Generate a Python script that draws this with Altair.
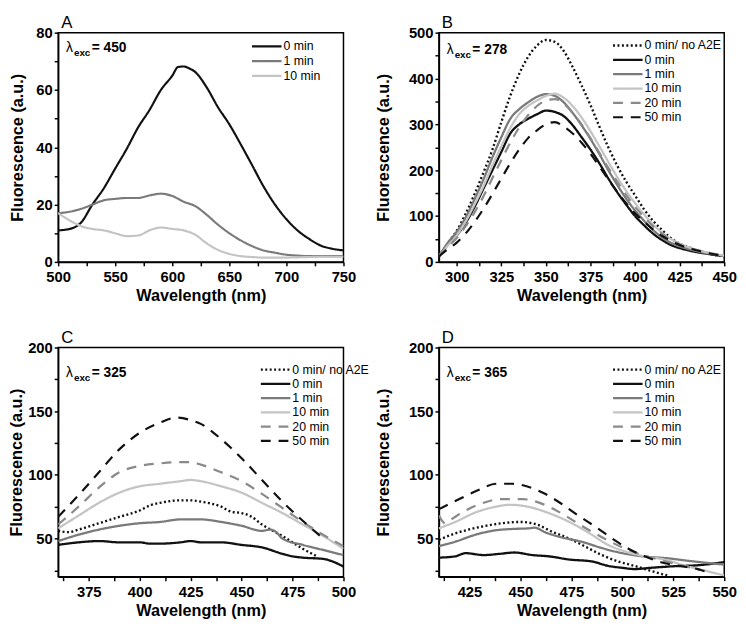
import altair as alt
import pandas as pd

# ---------------- Panel A (lambda_exc = 450) ----------------
A_names = ["0 min", "1 min", "10 min"]
A_wl_0 = [500, 510, 520, 530, 540, 550, 560, 570, 580, 590, 600, 605, 610, 615, 620, 630, 640, 650, 660, 670, 680, 690, 700, 710, 720, 730, 740, 750]
A_0 = [11, 11.5, 13.7, 20, 25.7, 32.6, 39.4, 46.9, 53, 60, 65, 68, 68.2, 67.5, 66.3, 61, 54, 48, 41, 33.7, 26.3, 20, 14.9, 10.9, 8, 5.7, 4.6, 4]
A_wl = [500, 510, 520, 530, 540, 550, 560, 570, 580, 590, 600, 610, 620, 630, 640, 650, 660, 670, 680, 690, 700, 710, 720, 730, 740, 750]
A_1 = [17, 17.5, 18.5, 20, 21.5, 22, 22.3, 22.3, 23.2, 23.8, 23, 21, 19.5, 16.5, 13, 10, 7.5, 5.5, 4, 3.2, 2.5, 2.2, 2, 2, 2, 2]
A_10 = [17, 14.5, 12.5, 11.5, 11, 10, 9, 9.2, 11, 12, 11.5, 11, 9.5, 6.5, 4.2, 2.8, 2, 1.7, 1.5, 1.5, 1.5, 1.6, 1.7, 1.8, 1.8, 1.8]

# ---------------- Panel B (lambda_exc = 278) ----------------
B_names = ["0 min/ no A2E", "0 min", "1 min", "10 min", "20 min", "50 min"]
B_wl = [290, 295, 300, 305, 310, 315, 320, 325, 330, 335, 340, 345, 350, 355, 360, 365, 370, 375, 380, 385, 390, 395, 400, 405, 410, 415, 420, 425, 430, 435, 440, 445, 450]
B_dot = [12, 40, 68, 105, 148, 195, 245, 305, 362, 410, 447, 472, 484, 480, 460, 425, 385, 342, 295, 250, 210, 175, 145, 115, 90, 70, 52, 40, 32, 25, 20, 15, 12]
B_0 = [12, 38, 58, 85, 120, 160, 200, 240, 280, 300, 312, 322, 330, 327, 318, 298, 272, 245, 215, 182, 152, 125, 100, 80, 62, 48, 37, 30, 25, 21, 18, 15, 13]
B_1 = [12, 42, 66, 97, 137, 180, 228, 272, 312, 333, 348, 360, 366, 362, 348, 325, 298, 268, 235, 200, 168, 138, 112, 90, 70, 54, 42, 34, 28, 23, 19, 16, 13]
B_10 = [12, 36, 58, 88, 125, 165, 210, 252, 292, 322, 340, 352, 362, 367, 358, 340, 315, 285, 252, 218, 185, 155, 128, 104, 82, 64, 50, 40, 32, 26, 21, 17, 14]
B_20 = [12, 33, 52, 78, 108, 143, 183, 222, 260, 293, 320, 340, 352, 355, 345, 325, 300, 270, 238, 205, 175, 146, 120, 98, 78, 62, 48, 38, 31, 25, 21, 17, 14]
B_50 = [12, 28, 42, 62, 87, 116, 148, 182, 215, 245, 270, 287, 300, 305, 295, 280, 260, 236, 208, 180, 153, 128, 106, 88, 71, 57, 46, 37, 30, 25, 20, 16, 13]

# ---------------- Panel C (lambda_exc = 325) ----------------
C_wl_dot = [360, 365, 370, 380, 390, 400, 405, 410, 420, 425, 430, 440, 445, 450, 455, 460, 470, 480, 487]
C_dot = [56, 55, 57, 62, 67, 72, 76, 78, 80, 80, 79, 75, 71, 70, 67, 61, 52, 42, 36]
C_wl_0 = [360, 370, 380, 390, 400, 405, 410, 420, 425, 430, 440, 450, 460, 470, 475, 480, 490, 500]
C_0 = [45, 47, 48, 47, 47, 46, 46, 47, 48, 47, 47, 45, 43, 38, 36, 35, 34, 28]
C_wl_1 = [360, 370, 380, 390, 400, 410, 420, 425, 430, 440, 450, 460, 464, 467, 470, 480, 490, 500]
C_1 = [48, 53, 57, 60, 62, 63, 65, 65, 65, 63, 60, 56, 57, 55, 50, 45, 41, 37]
C_wl = [360, 370, 380, 390, 400, 410, 420, 425, 430, 440, 450, 460, 470, 480, 490, 500]
C_10 = [58, 68, 78, 86, 91, 93, 95, 96, 95, 91, 86, 78, 70, 61, 52, 42]
C_20 = [61, 75, 90, 102, 107, 109, 110, 110, 108, 102, 95, 85, 74, 63, 53, 44]
C_wl_50 = [360, 370, 380, 390, 400, 410, 418, 425, 430, 440, 450, 460, 470, 480, 490]
C_50 = [67, 84, 102, 120, 133, 141, 145, 143, 140, 128, 113, 96, 79, 64, 50]

# ---------------- Panel D (lambda_exc = 365) ----------------
D_wl_dot = [410, 418, 430, 441, 450, 458, 466, 474, 482, 490, 498, 506, 514, 522]
D_dot = [49, 54, 59, 62, 63, 61, 55, 50, 43.5, 37, 32, 28.5, 24.6, 21]
D_wl_0 = [410, 418, 423, 432, 440, 447, 456, 464, 474, 485, 493, 500, 506, 514, 526, 537, 550]
D_0 = [35, 36, 38.5, 37, 38, 39, 37, 36, 33.5, 32, 28.5, 27, 26, 27, 28.3, 29, 31.5]
D_wl_1 = [410, 418, 428, 438, 446, 454, 457, 462, 470, 480, 490, 500, 510, 522, 535, 550]
D_1 = [44, 47.5, 53, 56.5, 57.5, 58, 58.5, 55, 51, 47.5, 42.5, 38.5, 36, 34.5, 32, 29.5]
D_wl_10 = [410, 418, 428, 438, 445, 455, 463, 474, 484, 493, 501, 511, 522, 530, 540, 550]
D_10 = [58, 63, 70.5, 75, 76.5, 74.5, 70.5, 63, 54, 45, 40, 36, 33, 29, 25, 21]
D_wl_20 = [410, 413, 417, 422, 430, 441, 451, 461, 471, 480, 490, 500, 510, 519, 529, 538]
D_20 = [68, 62, 66, 71, 77, 81, 81, 77, 69, 60, 51, 43, 37, 33, 29, 25.5]
D_wl_50 = [410, 420, 430, 438, 446, 453, 461, 469, 477, 487, 495, 503, 511, 520, 528, 537, 541]
D_50 = [73, 81, 88.5, 93, 93, 91, 86, 78.5, 69.5, 59, 50, 42, 36, 31, 28.5, 26, 24]

# styles
STYLE = {
    "0 min/ no A2E": ("#111111", [2, 2.5], 2.4),
    "0 min": ("#111111", [1, 0], 2.2),
    "1 min": ("#7a7a7a", [1, 0], 2.2),
    "10 min": ("#c4c4c4", [1, 0], 2.2),
    "20 min": ("#8a8a8a", [10, 8], 3.0),
    "50 min": ("#111111", [10, 8], 3.0),
}

FONT = "Liberation Sans"


def make_df(series):
    rows = []
    for name, wl, vals in series:
        for w, v in zip(wl, vals):
            rows.append({"series": name, "wl": w, "f": v})
    return pd.DataFrame(rows)


def panel(letter, df, names, xdom, xvals, xmod, ydom, yvals, ymod,
          leg_x, leg_y0, leg_dy, lam_val, lam_y, title_x):
    colors = [STYLE[n][0] for n in names]
    dashes = [STYLE[n][1] for n in names]
    widths = [STYLE[n][2] for n in names]
    color = alt.Color("series:N", scale=alt.Scale(domain=names, range=colors), legend=None)
    dash = alt.StrokeDash("series:N", scale=alt.Scale(domain=names, range=dashes), legend=None)
    width = alt.StrokeWidth("series:N", scale=alt.Scale(domain=names, range=widths), legend=None)

    lines = alt.Chart(df).mark_line(clip=True, interpolate="monotone").encode(
        x=alt.X("wl:Q", scale=alt.Scale(domain=xdom, nice=False, zero=False),
                axis=alt.Axis(values=xvals, title="Wavelength (nm)",
                              labelExpr=f"datum.value % {xmod} == 0 ? datum.label : ''",
                              labelFlush=False, labelOverlap=False, labelPadding=4,
                              titleY=39, titleBaseline="alphabetic")),
        y=alt.Y("f:Q", scale=alt.Scale(domain=ydom, nice=False, zero=False),
                axis=alt.Axis(values=yvals, title="Fluorescence (a.u.)",
                              labelExpr=f"datum.value % {ymod} == 0 ? datum.label : ''",
                              labelOverlap=False, titleX=title_x, titleBaseline="middle")),
        color=color, strokeDash=dash, strokeWidth=width,
    )

    # in-plot legend (line sample + label), one row per series
    leg_df = pd.DataFrame({"series": names, "i": list(range(len(names)))})
    leg_base = alt.Chart(leg_df).transform_calculate(py=f"{leg_y0} + datum.i * {leg_dy}")
    leg_sym = leg_base.mark_rule().encode(
        x=alt.value(leg_x), x2=alt.value(leg_x + 30),
        y=alt.Y("py:Q", scale=None, axis=None),
        color=color, strokeDash=dash, strokeWidth=width,
    )
    leg_txt = leg_base.mark_text(align="left", baseline="middle", font=FONT, fontSize=12.5,
                                 color="black").encode(
        x=alt.value(leg_x + 32), y=alt.Y("py:Q", scale=None, axis=None),
        text="series:N",
    )

    one = pd.DataFrame({"k": [0]})
    t1 = alt.Chart(one).mark_text(text="λ", font=FONT, fontSize=14, align="left",
                                  baseline="alphabetic", color="black").encode(
        x=alt.value(8), y=alt.value(lam_y))
    t2 = alt.Chart(one).mark_text(text="exc", font=FONT, fontSize=10, fontWeight="bold",
                                  align="left", baseline="alphabetic", color="black").encode(
        x=alt.value(16), y=alt.value(lam_y + 4))
    t3 = alt.Chart(one).mark_text(text=f"= {lam_val}", font=FONT, fontSize=14, fontWeight="bold",
                                  align="left", baseline="alphabetic", color="black").encode(
        x=alt.value(34), y=alt.value(lam_y))
    return alt.layer(lines, leg_sym, leg_txt, t1, t2, t3).resolve_scale(y="independent").properties(
        width=290, height=233,
        title=alt.TitleParams(text=letter, anchor="start", frame="group", font=FONT, fontSize=17,
                              fontWeight="normal", color="black", dx=3, offset=-6),
    )


dfA = make_df([("0 min", A_wl_0, A_0), ("1 min", A_wl, A_1), ("10 min", A_wl, A_10)])
dfB = make_df([("0 min/ no A2E", B_wl, B_dot), ("0 min", B_wl, B_0), ("1 min", B_wl, B_1),
               ("10 min", B_wl, B_10), ("20 min", B_wl, B_20), ("50 min", B_wl, B_50)])
dfC = make_df([("0 min/ no A2E", C_wl_dot, C_dot), ("0 min", C_wl_0, C_0), ("1 min", C_wl_1, C_1),
               ("10 min", C_wl, C_10), ("20 min", C_wl, C_20), ("50 min", C_wl_50, C_50)])
dfD = make_df([("0 min/ no A2E", D_wl_dot, D_dot), ("0 min", D_wl_0, D_0), ("1 min", D_wl_1, D_1),
               ("10 min", D_wl_10, D_10), ("20 min", D_wl_20, D_20), ("50 min", D_wl_50, D_50)])

A_xt = [500 + 25 * i for i in range(11)]
B_xt = [300 + 12.5 * i for i in range(13)]
C_xt = [362.5 + 12.5 * i for i in range(12)]
D_xt = [412.5 + 12.5 * i for i in range(12)]
A_yt = [10 * i for i in range(9)]
B_yt = [50 * i for i in range(11)]
CD_yt = [25 * i for i in range(1, 9)]

pA = panel("A", dfA, A_names, [500, 750], A_xt, 50, [0, 80], A_yt, 20, 197, 14, 15, 450, 20, -41)
pB = panel("B", dfB, B_names, [290, 450], B_xt, 25, [0, 500], B_yt, 100, 177, 13, 14.6, 278, 22, -56)
pC = panel("C", dfC, B_names, [360, 500], C_xt, 25, [20, 200], CD_yt, 50, 206, 22.5, 14.5, 325, 30, -42)
pD = panel("D", dfD, B_names, [410, 550], D_xt, 25, [20, 200], CD_yt, 50, 177, 22.5, 14.5, 365, 30, -56)

chart = alt.concat(pA, pB, pC, pD, columns=2, spacing={"row": 87, "column": 97},
                   bounds="flush").resolve_scale(
    color="independent", strokeDash="independent", strokeWidth="independent"
).properties(
    padding={"left": 0, "top": 0, "right": 0, "bottom": 0}
).configure_view(
    stroke="black", strokeWidth=1.5
).configure_axis(
    grid=False, domainColor="black", domainWidth=1.5, tickColor="black", tickWidth=1.5,
    tickSize=4, labelFont=FONT, labelFontSize=15, labelFontWeight="bold", labelColor="black",
    labelPadding=2, titleFont=FONT, titleFontSize=16.5, titleFontWeight="bold",
    titleColor="black", titlePadding=3
)

chart.save("out.html", embed_options={"renderer": "svg", "actions": False})
